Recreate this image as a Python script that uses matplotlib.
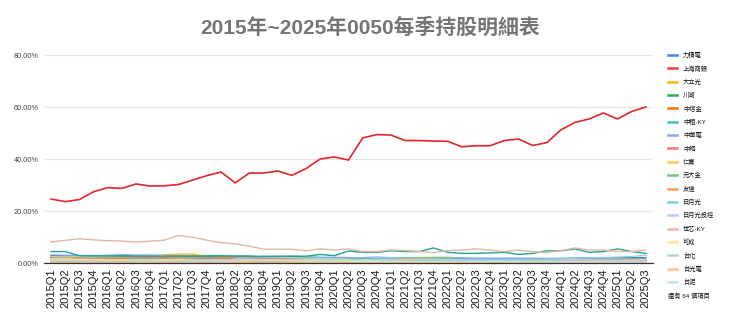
import matplotlib
matplotlib.use("Agg")
import matplotlib.pyplot as plt
from matplotlib.lines import Line2D

plt.rcParams['font.family'] = ['Liberation Sans', 'Noto Sans CJK TC']

quarters = ["%dQ%d" % (y, q) for y in range(2015, 2026) for q in range(1, 5)][:43]

# weights in percent, one value per quarter
tsmc = [24.6, 23.6, 24.4, 27.4, 29.0, 28.7, 30.4, 29.6, 29.7, 30.2, 31.9, 33.6, 35.0, 30.8, 34.6, 34.6,
        35.4, 33.7, 36.3, 40.0, 40.8, 39.6, 48.1, 49.4, 49.2, 47.1, 47.1, 46.9, 46.8, 44.7, 45.1, 45.1,
        47.1, 47.7, 45.2, 46.3, 51.2, 54.1, 55.4, 57.7, 55.4, 58.3, 60.0]
honhai = [8.1, 8.7, 9.3, 8.9, 8.6, 8.4, 8.1, 8.4, 8.8, 10.6, 9.9, 8.8, 7.8, 7.4, 6.5, 5.3,
          5.3, 5.3, 4.7, 5.4, 5.0, 5.4, 4.4, 4.4, 5.0, 4.8, 4.4, 4.0, 4.8, 5.0, 5.4, 5.0,
          4.4, 5.0, 4.4, 4.0, 4.8, 5.8, 5.0, 5.0, 4.4, 4.4, 5.0]
mediatek = [4.4, 4.4, 2.8, 2.7, 2.7, 2.6, 2.6, 2.6, 2.6, 2.6, 2.6, 2.6, 2.6, 2.6, 2.6, 2.6,
            2.6, 2.6, 2.6, 3.3, 2.8, 4.6, 4.1, 4.1, 4.7, 4.4, 4.4, 5.8, 4.1, 3.7, 3.7, 3.9,
            4.1, 3.3, 3.7, 4.7, 4.7, 5.4, 4.1, 4.4, 5.4, 4.4, 3.7]
formosa_plastic = [2.9, 2.8, 2.8, 2.6, 2.6, 2.7, 2.8, 2.9, 2.8, 2.7, 2.5, 2.5, 2.6, 2.7, 2.6, 2.3,
                   2.3, 2.2, 2.0, 1.9, 1.6, 1.5, 1.4, 1.3, 1.4, 1.4, 1.2, 1.2, 1.1, 1.0, 0.9, 0.9,
                   0.9, 0.8, 0.8, 0.8, 0.7, 0.6, 0.5, 0.4, 0.4, 0.4, 0.3]
nanya = [2.6, 2.5, 2.6, 2.7, 2.7, 2.8, 2.8, 2.9, 2.9, 2.8, 2.8, 2.9, 2.9, 2.8, 2.5, 2.3,
         2.4, 2.3, 2.1, 2.1, 1.8, 1.7, 1.6, 1.7, 1.9, 1.8, 1.6, 1.5, 1.4, 1.3, 1.1, 1.1,
         1.1, 1.0, 1.0, 1.0, 0.9, 0.8, 0.7, 0.6, 0.5, 0.5, 0.5]
fubon = [2.0, 2.1, 1.8, 1.9, 1.8, 1.8, 1.8, 1.9, 1.9, 1.9, 2.0, 2.0, 2.0, 1.9, 1.8, 1.8,
         1.8, 1.7, 1.7, 1.7, 1.5, 1.4, 1.5, 1.5, 1.7, 1.9, 2.0, 2.0, 2.1, 1.9, 1.7, 1.5,
         1.6, 1.6, 1.7, 1.7, 1.8, 1.9, 2.0, 2.1, 2.0, 2.1, 2.1]
cathay = [2.2, 2.1, 1.8, 1.9, 1.8, 1.8, 1.7, 1.8, 1.8, 1.8, 1.8, 1.8, 1.8, 1.7, 1.6, 1.6,
          1.6, 1.5, 1.5, 1.6, 1.4, 1.2, 1.2, 1.3, 1.4, 1.6, 1.6, 1.6, 1.5, 1.3, 1.1, 1.1,
          1.2, 1.2, 1.3, 1.3, 1.5, 1.6, 1.6, 1.6, 1.5, 1.6, 1.6]
delta = [1.8, 1.7, 1.5, 1.5, 1.6, 1.5, 1.6, 1.5, 1.5, 1.6, 1.8, 1.5, 1.5, 1.4, 1.3, 1.4,
         1.3, 1.3, 1.4, 1.5, 1.6, 1.9, 2.1, 2.4, 2.0, 1.9, 1.9, 1.7, 1.6, 1.7, 1.8, 1.9,
         1.9, 2.0, 1.9, 1.8, 1.7, 1.8, 2.0, 2.1, 2.3, 2.5, 3.0]
umc = [1.2, 1.1, 1.0, 1.0, 1.0, 1.0, 1.0, 1.1, 1.1, 1.1, 1.0, 1.0, 1.0, 1.0, 0.9, 0.8,
       0.9, 0.9, 1.0, 1.1, 1.1, 1.2, 1.5, 1.6, 1.7, 1.9, 2.1, 2.2, 2.2, 1.8, 1.6, 1.5,
       1.5, 1.6, 1.4, 1.3, 1.2, 1.1, 1.0, 0.9, 0.8, 0.7, 0.7]

legend_names = ["力積電", "上海商銀", "大立光", "川湖", "中信金", "中租-KY", "中華電", "中鋼", "仁寶",
                "元大金", "友達", "日月光", "日月光投控", "世芯-KY", "可成", "台化", "台光電", "台泥"]
legend_values = [
    [0, 0, 0, 0, 0, 0, 0, 0, 0, 0, 0, 0, 0, 0, 0, 0, 0, 0, 0, 0, 0, 0, 0, 0, 0, 0, 0.6, 0.7,
     0.6, 0.5, 0, 0, 0, 0, 0, 0, 0, 0, 0, 0, 0, 0, 0],
    [0, 0, 0, 0, 0, 0, 0, 0, 0, 0, 0, 0, 0, 0, 0, 0, 0, 0, 0, 0.5, 0.5, 0.5, 0.4, 0.4, 0.4, 0.4, 0.4, 0.4,
     0.4, 0.4, 0, 0, 0, 0, 0, 0, 0, 0, 0, 0, 0, 0, 0],
    [2.5, 2.6, 2.3, 2.4, 2.1, 2.2, 2.8, 2.6, 3.2, 3.4, 3.4, 2.6, 2.2, 1.9, 1.7, 1.6, 1.8, 1.6, 1.9, 2.0,
     1.5, 1.4, 1.2, 1.1, 1.0, 0.8, 0.7, 0.6, 0.5, 0.4, 0.4, 0.4, 0.4, 0.3, 0.3, 0.4, 0.3, 0.3, 0, 0, 0, 0, 0],
    [0, 0, 0, 0, 0, 0, 0, 0, 0, 0, 0, 0, 0, 0, 0, 0, 0, 0, 0, 0, 0, 0, 0, 0, 0, 0, 0, 0,
     0, 0, 0, 0, 0, 0, 0, 0, 0, 0, 0.4, 0.4, 0.4, 0.4, 0.5],
    [2.0, 2.1, 2.0, 1.9, 1.9, 1.8, 1.9, 1.9, 1.8, 1.9, 1.9, 1.8, 1.8, 1.7, 1.8, 1.7, 1.7, 1.6, 1.6, 1.5,
     1.4, 1.3, 1.3, 1.2, 1.2, 1.2, 1.3, 1.3, 1.4, 1.3, 1.3, 1.4, 1.3, 1.3, 1.4, 1.3, 1.2, 1.1, 1.1, 1.1,
     1.0, 1.1, 1.0],
    [0, 0, 0, 0.6, 0.6, 0.6, 0.6, 0.6, 0.7, 0.7, 0.7, 0.7, 0.8, 0.8, 0.8, 0.8, 0.9, 0.9, 0.9, 1.0,
     0.9, 0.9, 0.9, 0.9, 1.0, 1.0, 1.1, 1.2, 1.2, 1.1, 1.0, 1.0, 1.0, 0.9, 0.8, 0.8, 0.7, 0.7, 0.7, 0.6,
     0.6, 0.6, 0.5],
    [3.1, 3.0, 2.9, 2.9, 3.0, 3.2, 3.1, 3.0, 2.9, 2.8, 2.7, 2.6, 2.6, 2.6, 2.5, 2.4, 2.5, 2.6, 2.5, 2.2,
     2.2, 2.1, 1.9, 1.8, 1.7, 1.6, 1.5, 1.5, 1.6, 1.8, 1.8, 1.7, 1.7, 1.6, 1.6, 1.5, 1.3, 1.2, 1.2, 1.1,
     1.1, 1.1, 1.0],
    [2.4, 2.3, 2.0, 2.0, 2.1, 2.2, 2.2, 2.1, 2.0, 1.9, 1.9, 1.8, 1.9, 1.9, 1.8, 1.8, 1.8, 1.7, 1.6, 1.5,
     1.4, 1.3, 1.1, 1.1, 1.2, 1.7, 1.5, 1.3, 1.2, 1.0, 0.9, 0.9, 0.9, 0.9, 0.8, 0.8, 0.7, 0.6, 0.5, 0.5,
     0.4, 0.4, 0.4],
    [0.6, 0.6, 0.5, 0.5, 0.5, 0.5, 0.5, 0.5, 0.5, 0.5, 0.5, 0.4, 0.4, 0.4, 0.4, 0.4, 0.4, 0.4, 0.4, 0.4,
     0.4, 0.4, 0.4, 0.4, 0.4, 0.4, 0.4, 0.3, 0.3, 0.3, 0.3, 0.3, 0, 0, 0, 0, 0, 0, 0, 0, 0, 0, 0],
    [0.9, 0.9, 0.8, 0.8, 0.8, 0.8, 0.8, 0.9, 0.9, 0.9, 0.9, 0.9, 0.9, 0.9, 0.9, 0.9, 1.0, 1.0, 1.0, 1.0,
     0.9, 0.9, 0.9, 1.0, 1.1, 1.1, 1.1, 1.2, 1.3, 1.2, 1.2, 1.3, 1.3, 1.3, 1.3, 1.3, 1.2, 1.2, 1.2, 1.2,
     1.2, 1.3, 1.3],
    [0.9, 0.8, 0.7, 0.6, 0.6, 0.6, 0.8, 0.9, 0.8, 0.8, 0.7, 0.6, 0.6, 0.5, 0.5, 0.4, 0.4, 0.4, 0.3, 0.3,
     0.3, 0.3, 0.4, 0.5, 0.7, 0.8, 0.6, 0.6, 0.5, 0.4, 0.4, 0.4, 0.4, 0.4, 0, 0, 0, 0, 0, 0, 0, 0, 0],
    [1.4, 1.4, 1.3, 1.4, 1.3, 1.3, 1.4, 1.4, 1.4, 1.4, 1.4, 1.3, 0, 0, 0, 0, 0, 0, 0, 0,
     0, 0, 0, 0, 0, 0, 0, 0, 0, 0, 0, 0, 0, 0, 0, 0, 0, 0, 0, 0, 0, 0, 0],
    [0, 0, 0, 0, 0, 0, 0, 0, 0, 0, 0, 0, 0, 1.6, 1.5, 1.3, 1.3, 1.2, 1.3, 1.4,
     1.3, 1.3, 1.2, 1.3, 1.3, 1.4, 1.5, 1.4, 1.3, 1.2, 1.2, 1.2, 1.2, 1.2, 1.2, 1.2, 1.2, 1.3, 1.2, 1.1,
     1.1, 1.1, 1.1],
    [0, 0, 0, 0, 0, 0, 0, 0, 0, 0, 0, 0, 0, 0, 0, 0, 0, 0, 0, 0, 0, 0, 0, 0, 0, 0, 0, 0,
     0, 0, 0, 0, 0, 0, 0.6, 0.7, 0.8, 0.9, 0.6, 0.6, 0.5, 0.4, 0.4],
    [1.6, 1.5, 1.4, 1.3, 1.2, 1.2, 1.1, 1.1, 1.2, 1.3, 1.0, 0.9, 0.9, 0.8, 0.8, 0.9, 0.9, 0.8, 0.8, 0.8,
     0.7, 0.7, 0.6, 0.6, 0.5, 0.5, 0.4, 0.4, 0.4, 0, 0, 0, 0, 0, 0, 0, 0, 0, 0, 0, 0, 0, 0],
    [2.5, 2.3, 2.4, 2.3, 2.4, 2.4, 2.5, 2.6, 2.6, 2.4, 2.4, 2.5, 2.5, 2.6, 2.6, 2.3, 2.2, 2.1, 1.9, 1.8,
     1.6, 1.4, 1.3, 1.3, 1.4, 1.4, 1.3, 1.3, 1.2, 1.0, 0.9, 0.9, 0.9, 0.8, 0.8, 0.8, 0.7, 0.6, 0.5, 0.4,
     0.4, 0.4, 0.3],
    [0, 0, 0, 0, 0, 0, 0, 0, 0, 0, 0, 0, 0, 0, 0, 0, 0, 0, 0, 0, 0, 0, 0, 0, 0, 0, 0, 0,
     0, 0, 0, 0, 0, 0, 0, 0, 0.5, 0.7, 0.8, 0.9, 0.9, 1.1, 1.3],
    [1.0, 0.9, 0.8, 0.8, 0.8, 0.9, 0.8, 0.8, 0.8, 0.8, 0.8, 0.9, 0.9, 1.0, 1.1, 1.1, 1.1, 1.1, 1.0, 1.0,
     1.0, 1.0, 0.9, 0.9, 0.8, 0.8, 0.7, 0.7, 0.7, 0.7, 0.6, 0.6, 0.6, 0.6, 0.5, 0.5, 0.4, 0.4, 0.4, 0.3,
     0.3, 0.3, 0.3],
]
legend_colors = ["#4285F4", "#EA4335", "#FBBC04", "#34A853", "#FF6D01", "#46BDC6", "#7BAAF7", "#F07B72",
                 "#FCD04F", "#71C287", "#FF994D", "#7ED1D7", "#B3CEFB", "#F7B4AE", "#FDE49B", "#AEDCBA",
                 "#FFC599", "#B5E8EB"]
hidden_count = 64

fig = plt.figure(figsize=(7.4, 3.27), dpi=100)
ax = fig.add_axes([44 / 740, 64 / 327, 609 / 740, 208 / 327])
x = list(range(len(quarters)))

# the other holdings (not in the visible legend)
others = [(formosa_plastic, "#3949AB"), (nanya, "#0F9D58"), (fubon, "#26A69A"),
          (cathay, "#8E7CC3"), (delta, "#9FC5E8"), (umc, "#93C47D")]
for vals, c in others:
    ax.plot(x, vals, color=c, lw=0.9)
for vals, c in zip(legend_values, legend_colors):
    ax.plot(x, vals, color=c, lw=0.9)
ax.plot(x, mediatek, color="#23A38F", lw=1.0)
ax.plot(x, honhai, color="#E2B8A3", lw=1.0)
ax.plot(x, tsmc, color="#E2262B", lw=1.2, zorder=5)

ax.set_xlim(-0.5, len(quarters) - 0.5)
ax.set_ylim(0, 80)
ax.set_yticks([0, 20, 40, 60, 80])
ax.set_yticklabels(["%.2f%%" % v for v in [0, 20, 40, 60, 80]], fontsize=5.3, color="#444444")
ax.set_xticks(x)
ax.set_xticklabels(quarters, rotation=90, fontsize=8, color="#1a1a1a")
ax.tick_params(axis="both", length=0, pad=4)
ax.grid(axis="y", color="#e3e3e3", lw=0.8)
ax.set_axisbelow(True)
for s in ["top", "right", "left"]:
    ax.spines[s].set_visible(False)
ax.spines["bottom"].set_color("#333333")
ax.spines["bottom"].set_linewidth(0.9)

fig.text(0.5, 1 - 28 / 327, "2015年~2025年0050每季持股明細表", ha="center", va="center",
         fontsize=15, fontweight="bold", color="#757575")

# legend on the right, drawn entry by entry
for i, (name, c) in enumerate(zip(legend_names, legend_colors)):
    yy = 1 - (55 + i * 13.35) / 327
    fig.add_artist(Line2D([668 / 740, 677 / 740], [yy, yy], color=c, lw=1.8,
                          transform=fig.transFigure))
    fig.text(683 / 740, yy, name, fontsize=4.5, va="center", ha="left", color="#111111")
fig.text(668 / 740, 1 - 296 / 327, "還有 %d 個項目" % hidden_count, fontsize=4.5,
         va="center", ha="left", color="#111111")

fig.savefig("out.png", dpi=100)
